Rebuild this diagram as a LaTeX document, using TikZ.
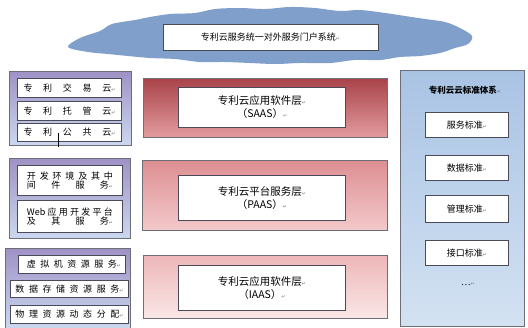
\documentclass[tikz,border=0pt]{standalone}
\usepackage{fontspec}
\setmainfont{Noto Sans CJK SC}
\newfontfamily\symf{DejaVu Sans}
\definecolor{cloudblue}{HTML}{809FCB}
\definecolor{purtop}{HTML}{9F92C6}
\definecolor{purbot}{HTML}{CAD8EF}
\definecolor{redAtop}{HTML}{A9434A}
\definecolor{redAbot}{HTML}{E29C9E}
\definecolor{redBtop}{HTML}{DD8E92}
\definecolor{redBbot}{HTML}{F3C9CA}
\definecolor{redCtop}{HTML}{EEB6B8}
\definecolor{redCbot}{HTML}{FAE7E7}
\definecolor{bluetop}{HTML}{A9C3E4}
\definecolor{bluebot}{HTML}{D3E2F2}
\definecolor{edge}{HTML}{4A4A58}
\newcommand\retmark{{\symf\fontsize{5}{5}\selectfont\color{gray}↵}}
\newcommand\spreadtext[2]{\makebox[#1][s]{#2}}
\begin{document}
\begin{tikzpicture}[x=1pt,y=-1pt,font=\fontsize{9}{11}\selectfont,
  outerbox/.style={draw=edge!80,line width=0.7pt,anchor=north west,inner sep=0pt},
  whitebox/.style={draw=edge,line width=1pt,fill=white,anchor=north west,inner sep=0pt,align=center},
  layerbox/.style={whitebox,minimum width=167pt,font=\fontsize{10.5}{13}\selectfont},
  stdbox/.style={whitebox,minimum width=83pt}]
\useasboundingbox (0,0) rectangle (528,327);
\fill[white] (0,0) rectangle (528,327);
% cloud
\fill[cloudblue] plot[smooth cycle,tension=0.55] coordinates {
  (68,47) (80,38) (100,31) (112,24) (135,20) (150,17) (170,14) (195,13)
  (215,9) (240,8) (265,9) (290,7) (315,8) (340,11) (360,10) (385,13)
  (405,16) (425,19) (445,22) (460,28) (472,36) (468,44) (455,48)
  (440,53) (420,56) (400,57) (380,60) (355,60) (330,63) (300,63)
  (275,64) (250,63) (225,62) (200,62) (175,59) (150,58) (128,56)
  (108,54) (88,52)};
\node[draw=edge,line width=0.8pt,fill=white,minimum width=215pt,minimum height=26pt,inner sep=0pt] (title) at (270.5,37) {专利云服务统一对外服务门户系统\retmark};
% left group 1
\node[outerbox,top color=purtop,bottom color=purbot,minimum width=122pt,minimum height=74pt] (g1) at (9,71) {};
\node[whitebox,minimum width=104pt,minimum height=19pt] (l1) at (17,78) {\spreadtext{92pt}{专\hfil 利\hfil 交\hfil 易\hfil 云\retmark}};
\node[whitebox,minimum width=104pt,minimum height=19pt] (l2) at (17,101) {\spreadtext{92pt}{专\hfil 利\hfil 托\hfil 管\hfil 云\retmark}};
\node[whitebox,minimum width=104pt,minimum height=18pt] (l3) at (17,123) {\spreadtext{92pt}{专\hfil 利\hfil 公\hfil 共\hfil 云\retmark}};
\coordinate (m1) at (58,133);
\coordinate (m2) at (58,147);
\draw[line width=0.8pt] (m1) -- (m2);
% left group 2
\node[outerbox,top color=purtop,bottom color=purbot,minimum width=121pt,minimum height=80pt] (g2) at (9,158) {};
\node[whitebox,minimum width=105pt,minimum height=30pt] (l4) at (17,165) {\spreadtext{86pt}{开\hfil 发\hfil 环\hfil 境\hfil 及\hfil 其\hfil 中}\\[-2pt]\spreadtext{86pt}{间\hfil 件\hfil 服\hfil 务\retmark}};
\node[whitebox,minimum width=105pt,minimum height=32pt] (l5) at (17,200) {\spreadtext{86pt}{Web\hfil 应\hfil 用\hfil 开\hfil 发\hfil 平\hfil 台}\\[-2pt]\spreadtext{86pt}{及\hfil 其\hfil 服\hfil 务\retmark}};
% left group 3
\node[outerbox,top color=purtop,bottom color=purbot,minimum width=125pt,minimum height=80pt] (g3) at (5,248) {};
\node[whitebox,minimum width=107pt,minimum height=18pt] (l6) at (18,255) {\hspace{4pt}\spreadtext{94pt}{虚\hfil 拟\hfil 机\hfil 资\hfil 源\hfil 服\hfil 务\retmark}};
\node[whitebox,minimum width=118pt,minimum height=17pt] (l7) at (10,280) {\spreadtext{108pt}{数\hfil 据\hfil 存\hfil 储\hfil 资\hfil 源\hfil 服\hfil 务\retmark}};
\node[whitebox,minimum width=118pt,minimum height=18pt] (l8) at (10,305) {\spreadtext{108pt}{物\hfil 理\hfil 资\hfil 源\hfil 动\hfil 态\hfil 分\hfil 配\retmark}};
% middle layers
\node[outerbox,top color=redAtop,bottom color=redAbot,minimum width=244pt,minimum height=59pt] (saasbg) at (143,78) {};
\node[layerbox,minimum height=40pt] (saas) at (178,87) {专利云应用软件层\retmark\\（SAAS）\retmark};
\node[outerbox,top color=redBtop,bottom color=redBbot,minimum width=245pt,minimum height=70pt] (paasbg) at (142,160) {};
\node[layerbox,minimum height=45pt] (paas) at (178,175) {专利云平台服务层\retmark\\（PAAS）\retmark};
\node[outerbox,top color=redCtop,bottom color=redCbot,minimum width=244pt,minimum height=63pt] (iaasbg) at (143,255) {};
\node[layerbox,minimum height=45pt] (iaas) at (178,265) {专利云应用软件层\retmark\\（IAAS）\retmark};
% right standards
\node[outerbox,top color=bluetop,bottom color=bluebot,minimum width=124pt,minimum height=256pt] (std) at (400,70) {};
\node[font=\fontsize{8.5}{10}\selectfont\bfseries] (stdtitle) at (465,90) {专利云云标准体系\retmark};
\node[stdbox,minimum height=25pt] (s1) at (425,112) {服务标准\retmark};
\node[stdbox,minimum height=25pt] (s2) at (425,155) {数据标准\retmark};
\node[stdbox,minimum height=27pt] (s3) at (425,195) {管理标准\retmark};
\node[stdbox,minimum height=25pt] (s4) at (425,240) {接口标准\retmark};
\node (s5) at (468,284) {…\retmark};
\end{tikzpicture}
\end{document}
